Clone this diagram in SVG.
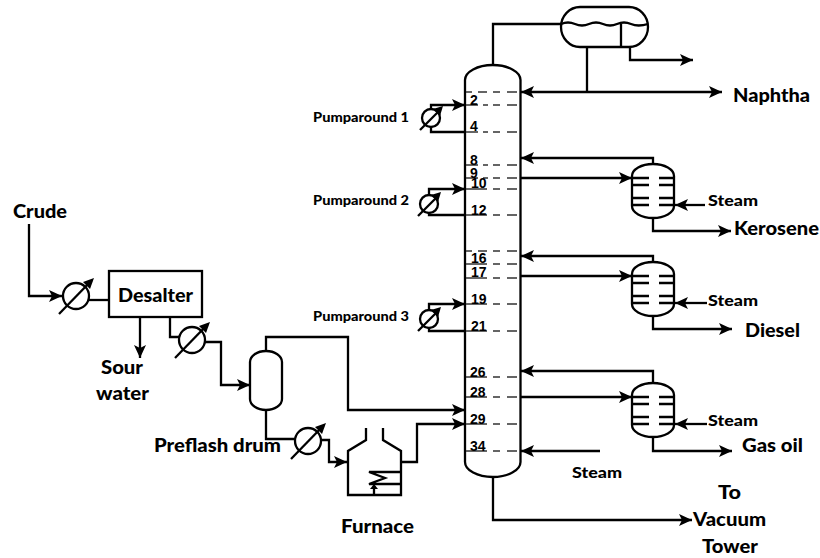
<svg xmlns="http://www.w3.org/2000/svg" xmlns:xlink="http://www.w3.org/1999/xlink" width="820" height="558" viewBox="0 0 820 558">
<style>
.l{fill:none;stroke:#000;stroke-width:2.300}
.c{fill:none;stroke:#000;stroke-width:2.300}
.tr{fill:none;stroke:#333;stroke-width:1.500}
.a{marker-end:url(#ah)}
.s{marker-start:url(#ahs)}
text{font-family:"Lato","Liberation Sans",sans-serif;font-weight:900;fill:#000}
.big{font-size:18px}
.med{font-size:14.500px}
.sm{font-size:12.500px}
.n{font-family:"Liberation Sans",Arial,sans-serif;font-size:14px;font-weight:700}
</style>
<defs>
<marker id="ah" markerUnits="userSpaceOnUse" markerWidth="14" markerHeight="14" viewBox="0 0 14 14" refX="13" refY="7" orient="auto"><path d="M0 1L13 7L0 13L3 7Z" fill="#000"/></marker>
<marker id="ahs" markerUnits="userSpaceOnUse" markerWidth="14" markerHeight="14" viewBox="0 0 14 14" refX="1" refY="7" orient="auto"><path d="M14 1L1 7L14 13L11 7Z" fill="#000"/></marker>
<g id="hxL"><circle r="13" fill="#fff" stroke="#000" stroke-width="2.300"/><path d="M-17 18L15 -15" class="l"/><path d="M18 -18L7 -14L14 -7Z" fill="#000"/></g>
<g id="hxS"><circle r="9" fill="#fff" stroke="#000" stroke-width="2.300"/><path d="M-11 12L9 -8" class="l"/><path d="M12 -12L2 -9L9 -2Z" fill="#000"/></g>
<g id="strip"><path class="l" d="M-21 12A21 12 0 0 1 21 12V42A21 12 0 0 1 -21 42Z"/><path class="l" d="M-21 14H-4M6 14H21M-21 21H-4M6 21H21M-21 34H-4M6 34H21M-21 41H-4M6 41H21"/></g>
</defs>

<g id="connectors">
<path class="c a" d="M29 224V296H62"/>
<path class="c" d="M89 300H109"/>
<path class="c a" d="M140 317V358"/>
<path class="c" d="M170 317V337H179"/>
<path class="c a" d="M205 342H221V385H250"/>
<path class="c a" d="M266 351V337H348V410H465"/>
<path class="c" d="M266 410V439H295"/>
<path class="c a" d="M321 440H329V462H347"/>
<path class="c a" d="M401 462H417V424H465"/>
<path class="c" d="M493 65V24H561"/>
<path class="c" d="M587 47V92"/>
<path class="c a" d="M630 47V60H693"/>
<path class="c a s" d="M521 92H722"/>
<path class="c a" d="M431 110V105H465"/>
<path class="c" d="M431 127V132H466"/>
<path class="c a" d="M429 195V189H465"/>
<path class="c" d="M429 213V215H466"/>
<path class="c a" d="M429 310V304H465"/>
<path class="c" d="M429 328V331H466"/>
<path class="c a" d="M653 164V158H521"/>
<path class="c a" d="M520 178H632"/>
<path class="c a" d="M705 205H675"/>
<path class="c a" d="M653 218V231H731"/>
<path class="c a" d="M653 262V256H521"/>
<path class="c a" d="M520 276H632"/>
<path class="c a" d="M707 303H675"/>
<path class="c a" d="M653 316V329H732"/>
<path class="c a" d="M653 383V371H521"/>
<path class="c a" d="M520 397H632"/>
<path class="c a" d="M707 424H675"/>
<path class="c a" d="M653 437V451H732"/>
<path class="c a" d="M600 451H521"/>
<path class="c a" d="M493 477V520H692"/>
</g>

<g id="crude-label"><text class="big" x="13" y="218" textLength="54" lengthAdjust="spacingAndGlyphs">Crude</text></g>
<g id="hx-1"><use xlink:href="#hxL" href="#hxL" x="76" y="296"/></g>
<g id="desalter"><rect x="109" y="271" width="93" height="46" fill="none" stroke="#000" stroke-width="2.300"/><text class="big" x="118" y="302" textLength="75" lengthAdjust="spacingAndGlyphs">Desalter</text></g>
<g id="sour-water"><text class="big" x="101" y="374" textLength="42" lengthAdjust="spacingAndGlyphs">Sour</text><text class="big" x="96" y="400" textLength="53" lengthAdjust="spacingAndGlyphs">water</text></g>
<g id="hx-2"><use xlink:href="#hxL" href="#hxL" x="192" y="340"/></g>
<g id="preflash-drum"><path class="l" d="M250 362A16 11 0 0 1 282 362V399A16 11 0 0 1 250 399Z"/><text class="big" x="154" y="452" textLength="127" lengthAdjust="spacingAndGlyphs">Preflash drum</text></g>
<g id="hx-3"><use xlink:href="#hxL" href="#hxL" x="308" y="441"/></g>
<g id="furnace">
<path class="l" d="M366 428V440L348 451V495H401V451L383 440V428"/>
<path class="l" d="M401 472H369L385 478L369 484H401"/>
<path class="l" d="M374 495V486"/>
<path d="M374 484L370 489H378Z" fill="#000"/>
<text class="big" x="341" y="533" textLength="73" lengthAdjust="spacingAndGlyphs">Furnace</text>
</g>

<g id="column">
<path class="l" d="M465 80A27.750 15 0 0 1 520.500 80V462A27.750 15 0 0 1 465 462Z"/>
<path class="tr" d="M466 92H472M478 92H487M493 92H500M507 92H517"/>
<path class="tr" d="M466 105H478M483 105H488M493 105H500M507 105H517"/>
<path class="tr" d="M466 132H478M483 132H488M493 132H500M507 132H517"/>
<path class="tr" d="M466 165H478M483 165H488M493 165H500M507 165H517"/>
<path class="tr" d="M466 178H478M483 178H488M493 178H500M507 178H517"/>
<path class="tr" d="M466 189H487M493 189H500M507 189H517"/>
<path class="tr" d="M466 215H487M493 215H500M507 215H517"/>
<path class="tr" d="M466 251H472M478 251H487M493 251H500M507 251H517"/>
<path class="tr" d="M466 264H487M493 264H500M507 264H517"/>
<path class="tr" d="M466 278H487M493 278H500M507 278H517"/>
<path class="tr" d="M466 304H487M493 304H500M507 304H517"/>
<path class="tr" d="M466 331H487M493 331H500M507 331H517"/>
<path class="tr" d="M466 377H487M493 377H500M507 377H517"/>
<path class="tr" d="M466 397H487M493 397H500M507 397H517"/>
<path class="tr" d="M466 424H487M493 424H500M507 424H517"/>
<path class="tr" d="M466 451H487M493 451H500M507 451H517"/>
<text class="n" x="470" y="105">2</text>
<text class="n" x="470" y="131">4</text>
<text class="n" x="470" y="165">8</text>
<text class="n" x="470" y="178">9</text>
<text class="n" x="471" y="188">10</text>
<text class="n" x="471" y="215">12</text>
<text class="n" x="471" y="263">16</text>
<text class="n" x="471" y="277">17</text>
<text class="n" x="471" y="304">19</text>
<text class="n" x="471" y="331">21</text>
<text class="n" x="470" y="377">26</text>
<text class="n" x="470" y="397">28</text>
<text class="n" x="470" y="424">29</text>
<text class="n" x="470" y="451">34</text>
</g>

<g id="reflux-drum">
<path class="l" d="M580 7H629A19 20 0 0 1 629 47H580A19 20 0 0 1 580 7Z"/>
<path class="l" d="M561 24Q568 21 575 24T589 24T603 24T617 24T631 24T648 24" stroke-width="1.500"/>
<path class="l" d="M621 24V47"/>
</g>

<g id="pumparound-1"><use xlink:href="#hxS" href="#hxS" x="431" y="118"/><text class="sm" x="313" y="122" textLength="96" lengthAdjust="spacingAndGlyphs">Pumparound 1</text></g>
<g id="pumparound-2"><use xlink:href="#hxS" href="#hxS" x="429" y="204"/><text class="sm" x="313" y="205" textLength="96" lengthAdjust="spacingAndGlyphs">Pumparound 2</text></g>
<g id="pumparound-3"><use xlink:href="#hxS" href="#hxS" x="429" y="319"/><text class="sm" x="313" y="321" textLength="96" lengthAdjust="spacingAndGlyphs">Pumparound 3</text></g>

<g id="stripper-kerosene"><use xlink:href="#strip" href="#strip" x="653" y="164"/></g>
<g id="stripper-diesel"><use xlink:href="#strip" href="#strip" x="653" y="262"/></g>
<g id="stripper-gasoil"><use xlink:href="#strip" href="#strip" x="653" y="383"/></g>

<g id="labels">
<text class="big" x="733" y="102" textLength="77" lengthAdjust="spacingAndGlyphs">Naphtha</text>
<text class="big" x="734" y="235" textLength="85" lengthAdjust="spacingAndGlyphs">Kerosene</text>
<text class="big" x="745" y="337" textLength="55" lengthAdjust="spacingAndGlyphs">Diesel</text>
<text class="big" x="742" y="452" textLength="61" lengthAdjust="spacingAndGlyphs">Gas oil</text>
<text class="med" x="708" y="206" textLength="50" lengthAdjust="spacingAndGlyphs">Steam</text>
<text class="med" x="708" y="306" textLength="50" lengthAdjust="spacingAndGlyphs">Steam</text>
<text class="med" x="708" y="426" textLength="50" lengthAdjust="spacingAndGlyphs">Steam</text>
<text class="med" x="572" y="478" textLength="50" lengthAdjust="spacingAndGlyphs">Steam</text>
<text class="big" x="718" y="499" textLength="23" lengthAdjust="spacingAndGlyphs">To</text>
<text class="big" x="693" y="526" textLength="73" lengthAdjust="spacingAndGlyphs">Vacuum</text>
<text class="big" x="702" y="553" textLength="56" lengthAdjust="spacingAndGlyphs">Tower</text>
</g>
</svg>
